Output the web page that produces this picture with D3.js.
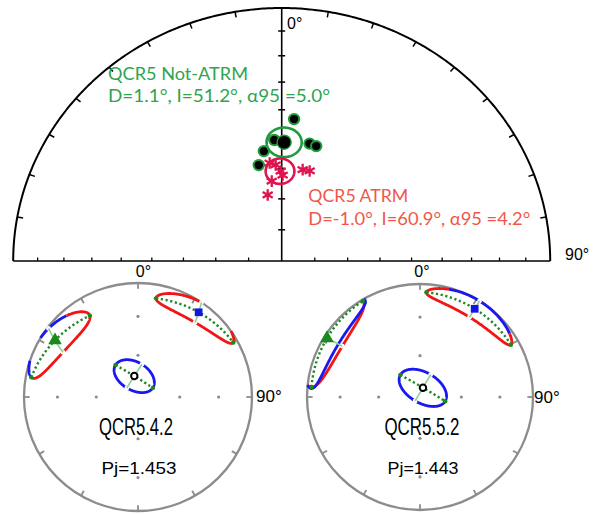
<!DOCTYPE html>
<html>
<head>
<meta charset="utf-8">
<script src="https://cdn.jsdelivr.net/npm/d3@7"></script>
<style>
  html, body { margin: 0; padding: 0; background: #fff; }
  svg { display: block; }
</style>
</head>
<body>
<svg id="chart" width="593" height="514"></svg>
<script>
// ---- site-mean directions (top net) ----
const notAtrmDec = [4.7, -3.3, 12.6, 15.8, -8.7, -12.7];
const notAtrmInc = [43.1, 50.4, 50.7, 51.0, 53.8, 58.1];
const atrmDec = [-6.6, -3.4, -0.6, 0.6, -6.7, 12.2, 16.3, -11.3];
const atrmInc = [58.0, 58.8, 60.9, 62.2, 64.0, 59.7, 59.6, 68.3];
const groupNames = ["QCR5 Not-ATRM", "QCR5 ATRM"];
const meanDec = [1.1, -1.0];
const meanInc = [51.2, 60.9];
const meanA95 = [5.0, 4.2];
const incTicks = [10, 20, 30, 40, 50, 60, 70, 80];
const decTicks = [-80, -70, -60, -50, -40, -30, -20, -10, 10, 20, 30, 40, 50, 60, 70, 80];

// ---- anisotropy tensors (small nets) ----
const specimens = ["QCR5.4.2", "QCR5.5.2"];
const pjValues = [1.453, 1.443];
const rimTicks = [0, 30, 60, 90, 120, 150, 180, 210, 240, 270, 300, 330];
const gridInc = [30, 60];
// one row per confidence region; axis: 1 = max, 2 = int, 3 = min, 0 = extra outline
const ellSpecimen = [0, 0, 0, 1, 1, 1, 1];
const ellAxis = [1, 2, 3, 1, 2, 3, 0];
const ellDec = [35.6, 304.3, 350.0, 31.8, 302.3, 17.6, 302.5];
const ellInc = [9.5, 12.9, 74.8, 9.0, 3.0, 83.0, 3.0];
const ellMajor = [25.0, 24.7, 15.6, 28.0, 27.0, 18.7, 28.0];
const ellMinor = [9.5, 12.0, 10.0, 9.0, 16.0, 11.0, 12.0];
const ellTilt = [-10.6, 15.5, 42.0, 0.0, -3.0, 12.9, -3.0];
// arcs along the outline: [from t, to t, kind] (kind 0 = red, 1 = blue)
const ellArcs = [
  [[0, 286, 0], [286, 318, 1], [318, 360, 0]],
  [[0, 186, 0], [186, 299, 1], [299, 360, 0]],
  [[0, 360, 1]],
  [[0, 233, 0], [233, 325, 1], [325, 360, 0]],
  [[0, 360, 0]],
  [[0, 360, 1]],
  [[0, 360, 1]]
];

const rad = Math.PI / 180;
const svg = d3.select("#chart");

// direction cosines (north, east, down)
function dirVec(D, I) {
  const d = D * rad, i = I * rad;
  return [Math.cos(i) * Math.cos(d), Math.cos(i) * Math.sin(d), Math.sin(i)];
}
// rotate (D, I) by an offset of u degrees along the tilted major axis and w along the minor axis
function offsetPoint(D, I, psi, u, w) {
  const d = D * rad, i = I * rad, p = psi * rad;
  const c = dirVec(D, I);
  const eD = [-Math.sin(d), Math.cos(d), 0];
  const eI = [-Math.sin(i) * Math.cos(d), -Math.sin(i) * Math.sin(d), Math.cos(i)];
  const m = eD.map((v, k) => v * Math.cos(p) + eI[k] * Math.sin(p));
  const n = eD.map((v, k) => -v * Math.sin(p) + eI[k] * Math.cos(p));
  const o = m.map((v, k) => v * u + n[k] * w);
  const len = Math.hypot(o[0], o[1], o[2]);
  if (len < 1e-9) return c;
  const rho = len * rad;
  return c.map((v, k) => v * Math.cos(rho) + (o[k] / len) * Math.sin(rho));
}
// point on an elliptical cone around (D, I)
function conePoint(D, I, a, b, psi, t) {
  return offsetPoint(D, I, psi, a * Math.cos(t * rad), b * Math.sin(t * rad));
}
// Lambert equal-area, lower hemisphere -> unit disc [x east, y north]
function equalArea(v) {
  if (v[2] < -1e-6) return null;
  const h = Math.hypot(v[0], v[1]);
  const r = Math.sqrt(Math.max(0, 1 - v[2]));
  if (h < 1e-12) return [0, 0];
  return [r * v[1] / h, r * v[0] / h];
}

// ================= top net (northern half) =================
const topNet = { cx: 281.7, cy: 261, rx: 268.5, ry: 253 };
const tx = d3.scaleLinear().domain([-1, 1]).range([topNet.cx - topNet.rx, topNet.cx + topNet.rx]);
const ty = d3.scaleLinear().domain([0, 1]).range([topNet.cy, topNet.cy - topNet.ry]);
const gTop = svg.append("g");

const rimLine = d3.line().x(p => tx(p[0])).y(p => ty(p[1]));
gTop.append("path")
  .attr("d", rimLine(d3.range(-90, 90.5, 0.5).map(D => [Math.sin(D * rad), Math.cos(D * rad)])))
  .attr("fill", "none").attr("stroke", "#000").attr("stroke-width", 2);
// baseline and vertical axis
gTop.append("line").attr("x1", tx(-1)).attr("x2", tx(1)).attr("y1", ty(0)).attr("y2", ty(0))
  .attr("stroke", "#000").attr("stroke-width", 1.6);
gTop.append("line").attr("x1", tx(0)).attr("x2", tx(0)).attr("y1", ty(0)).attr("y2", ty(1))
  .attr("stroke", "#000").attr("stroke-width", 1.6);
// declination ticks on the rim
decTicks.forEach(D => {
  const s = Math.sin(D * rad), c = Math.cos(D * rad);
  gTop.append("line")
    .attr("x1", tx(s)).attr("y1", ty(c))
    .attr("x2", tx(s * 0.978)).attr("y2", ty(c * 0.978))
    .attr("stroke", "#000").attr("stroke-width", 1.5);
});
// inclination ticks on both axes
incTicks.forEach(I => {
  const r = Math.sqrt(1 - Math.sin(I * rad));
  gTop.append("line").attr("x1", tx(0) - 3.5).attr("x2", tx(0) + 3.5)
    .attr("y1", ty(r)).attr("y2", ty(r)).attr("stroke", "#000").attr("stroke-width", 1.5);
  [-r, r].forEach(x => gTop.append("line").attr("x1", tx(x)).attr("x2", tx(x))
    .attr("y1", ty(0)).attr("y2", ty(0) - 3.5).attr("stroke", "#000").attr("stroke-width", 1.3));
});
gTop.append("text").attr("x", 287).attr("y", 28.5).text("0°")
  .attr("font-family", "Liberation Sans, Arial, sans-serif").attr("font-size", 16);
gTop.append("text").attr("x", 565).attr("y", 260).text("90°")
  .attr("font-family", "Liberation Sans, Arial, sans-serif").attr("font-size", 16);

const greenDark = "#1f9a3c", crimson = "#e0134f";
const topPos = (D, I) => { const p = equalArea(dirVec(D, I)); return [tx(p[0]), ty(p[1])]; };
const coneLine = d3.line().x(p => p[0]).y(p => p[1]).curve(d3.curveLinearClosed);

// Not-ATRM specimens
notAtrmDec.forEach((D, k) => {
  const [x, y] = topPos(D, notAtrmInc[k]);
  gTop.append("circle").attr("cx", x).attr("cy", y).attr("r", 5.2)
    .attr("fill", "#000").attr("stroke", greenDark).attr("stroke-width", 2);
});
// alpha95 cones
const coneColors = [greenDark, crimson];
meanDec.forEach((D, k) => {
  const pts = d3.range(0, 360, 3).map(t => {
    const p = equalArea(conePoint(D, meanInc[k], meanA95[k], meanA95[k], 0, t));
    return [tx(p[0]), ty(p[1])];
  });
  gTop.append("path").attr("d", coneLine(pts)).attr("fill", "none")
    .attr("stroke", coneColors[k]).attr("stroke-width", 2.6);
});
{
  const [x, y] = topPos(meanDec[0], meanInc[0]);
  gTop.append("circle").attr("cx", x).attr("cy", y).attr("r", 7)
    .attr("fill", "#000").attr("stroke", greenDark).attr("stroke-width", 1.4);
}
// ATRM specimens
const star = d3.symbol().type(d3.symbolAsterisk).size(95);
atrmDec.forEach((D, k) => {
  const [x, y] = topPos(D, atrmInc[k]);
  gTop.append("path").attr("d", star()).attr("transform", `translate(${x},${y})`)
    .attr("fill", "none").attr("stroke", crimson).attr("stroke-width", 2.3);
});

// group captions
const fmt = v => v.toFixed(1);
const captionFont = "Lato, Open Sans, sans-serif";
const captions = [
  { x: 108, y1: 79.5, y2: 101.8, w1: 140, w2: 222, color: "#2ea44f" },
  { x: 308.3, y1: 201.7, y2: 225, w1: 100, w2: 222, color: "#f0574a" }
];
captions.forEach((c, k) => {
  gTop.append("text").attr("x", c.x).attr("y", c.y1).text(groupNames[k])
    .attr("fill", c.color).attr("font-family", captionFont).attr("font-size", 18)
    .attr("textLength", c.w1).attr("lengthAdjust", "spacingAndGlyphs");
  gTop.append("text").attr("x", c.x).attr("y", c.y2)
    .text(`D=${fmt(meanDec[k])}°, I=${fmt(meanInc[k])}°, α95 =${fmt(meanA95[k])}°`)
    .attr("fill", c.color).attr("font-family", captionFont).attr("font-size", 18)
    .attr("textLength", c.w2).attr("lengthAdjust", "spacingAndGlyphs");
});

// ================= small nets =================
const nets = [
  { cx: 138, cy: 397, R: 114, zeroX: 143.5, nineX: 256, nineY: 401.7,
    nameX: 136, nameW: 74, pjX: 139, pjW: 75 },
  { cx: 420, cy: 397, R: 113, zeroX: 422, nineX: 534, nineY: 403,
    nameX: 422, nameW: 75, pjX: 423, pjW: 71 }
];
const grey = "#8c8c8c";
const outlineColors = ["#f21515", "#1818f0"];
const axisGreen = "#188a1e";

nets.forEach((n, s) => {
  n.x = d3.scaleLinear().domain([-1, 1]).range([n.cx - n.R, n.cx + n.R]);
  n.y = d3.scaleLinear().domain([-1, 1]).range([n.cy + n.R, n.cy - n.R]);
  const g = svg.append("g");
  n.g = g;
  g.append("circle").attr("cx", n.x(0)).attr("cy", n.y(0)).attr("r", n.R)
    .attr("fill", "none").attr("stroke", grey).attr("stroke-width", 2.3);
  rimTicks.forEach(D => {
    const sx = Math.sin(D * rad), sy = Math.cos(D * rad);
    g.append("line").attr("x1", n.x(sx)).attr("y1", n.y(sy))
      .attr("x2", n.x(sx * 0.95)).attr("y2", n.y(sy * 0.95))
      .attr("stroke", grey).attr("stroke-width", 1.8);
  });
  gridInc.forEach(I => {
    const r = Math.sqrt(1 - Math.sin(I * rad));
    [[r, 0], [-r, 0], [0, r], [0, -r]].forEach(p =>
      g.append("circle").attr("cx", n.x(p[0])).attr("cy", n.y(p[1])).attr("r", 1.6).attr("fill", grey));
  });
  g.append("text").attr("x", n.zeroX).attr("y", 277).attr("text-anchor", "middle").text("0°")
    .attr("font-family", "Liberation Sans, Arial, sans-serif").attr("font-size", 16);
  g.append("text").attr("x", n.nineX).attr("y", n.nineY).text("90°")
    .attr("font-family", "Liberation Sans, Arial, sans-serif").attr("font-size", 17);
  g.append("text").attr("x", n.nameX).attr("y", 435).attr("text-anchor", "middle").text(specimens[s])
    .attr("font-family", "Liberation Sans Narrow, Liberation Sans, Arial, sans-serif").attr("font-size", 23)
    .attr("textLength", n.nameW).attr("lengthAdjust", "spacingAndGlyphs");
  g.append("text").attr("x", n.pjX).attr("y", 474).attr("text-anchor", "middle").text(`Pj=${pjValues[s].toFixed(3)}`)
    .attr("font-family", "Liberation Sans, Arial, sans-serif").attr("font-size", 17)
    .attr("textLength", n.pjW).attr("lengthAdjust", "spacingAndGlyphs");
});

function toNet(k, v) {
  const n = nets[ellSpecimen[k]];
  const p = equalArea(v);
  return p ? [n.x(p[0]), n.y(p[1])] : null;
}
const ellPt = (k, t) => toNet(k, conePoint(ellDec[k], ellInc[k], ellMajor[k], ellMinor[k], ellTilt[k], t));
const ellAxisPt = (k, u, w) => toNet(k, offsetPoint(ellDec[k], ellInc[k], ellTilt[k], u, w));
const openLine = d3.line().defined(p => p !== null).x(p => p[0]).y(p => p[1]);

// outlines
ellArcs.forEach((arcs, k) => {
  const g = nets[ellSpecimen[k]].g;
  arcs.forEach(([t0, t1, kind]) => {
    const pts = d3.range(t0, t1, 1).concat([t1]).map(t => ellPt(k, t));
    g.append("path").attr("d", openLine(pts)).attr("fill", "none")
      .attr("stroke", outlineColors[kind]).attr("stroke-width", 2.8);
  });
});
// principal axes of each confidence region
ellAxis.forEach((ax, k) => {
  if (!ax) return;
  const g = nets[ellSpecimen[k]].g;
  const a = ellMajor[k], b = ellMinor[k];
  // minor axis: white breaks in the outline, light green line
  [90, 270].forEach(t => {
    const p = ellPt(k, t);
    if (p) g.append("circle").attr("cx", p[0]).attr("cy", p[1]).attr("r", 2.4).attr("fill", "#fff");
  });
  const minorPts = d3.range(-b, b + 0.01, b / 20).map(w => ellAxisPt(k, 0, w));
  g.append("path").attr("d", openLine(minorPts)).attr("fill", "none")
    .attr("stroke", "#8fd08f").attr("stroke-width", 1.6);
  const majorPts = d3.range(-a, a + 0.01, a / 40).map(u => ellAxisPt(k, u, 0));
  g.append("path").attr("d", openLine(majorPts)).attr("fill", "none")
    .attr("stroke", axisGreen).attr("stroke-width", 2.4).attr("stroke-dasharray", "2.2,2.6");
  [0, 180].forEach(t => {
    const p = ellPt(k, t);
    if (p) g.append("circle").attr("cx", p[0]).attr("cy", p[1]).attr("r", 2.2).attr("fill", axisGreen);
  });
});
// axis symbols
ellAxis.forEach((ax, k) => {
  if (!ax) return;
  const g = nets[ellSpecimen[k]].g;
  const [x, y] = ellAxisPt(k, 0, 0);
  if (ax === 1) {
    g.append("path").attr("d", d3.symbol().type(d3.symbolSquare).size(60)())
      .attr("transform", `translate(${x},${y})`).attr("fill", "#1414e6");
  } else if (ax === 2) {
    g.append("path").attr("d", d3.symbol().type(d3.symbolTriangle).size(80)())
      .attr("transform", `translate(${x},${y})`).attr("fill", axisGreen);
  } else {
    g.append("circle").attr("cx", x).attr("cy", y).attr("r", 3.2)
      .attr("fill", "#fff").attr("stroke", "#000").attr("stroke-width", 2);
  }
});
</script>
</body>
</html>
